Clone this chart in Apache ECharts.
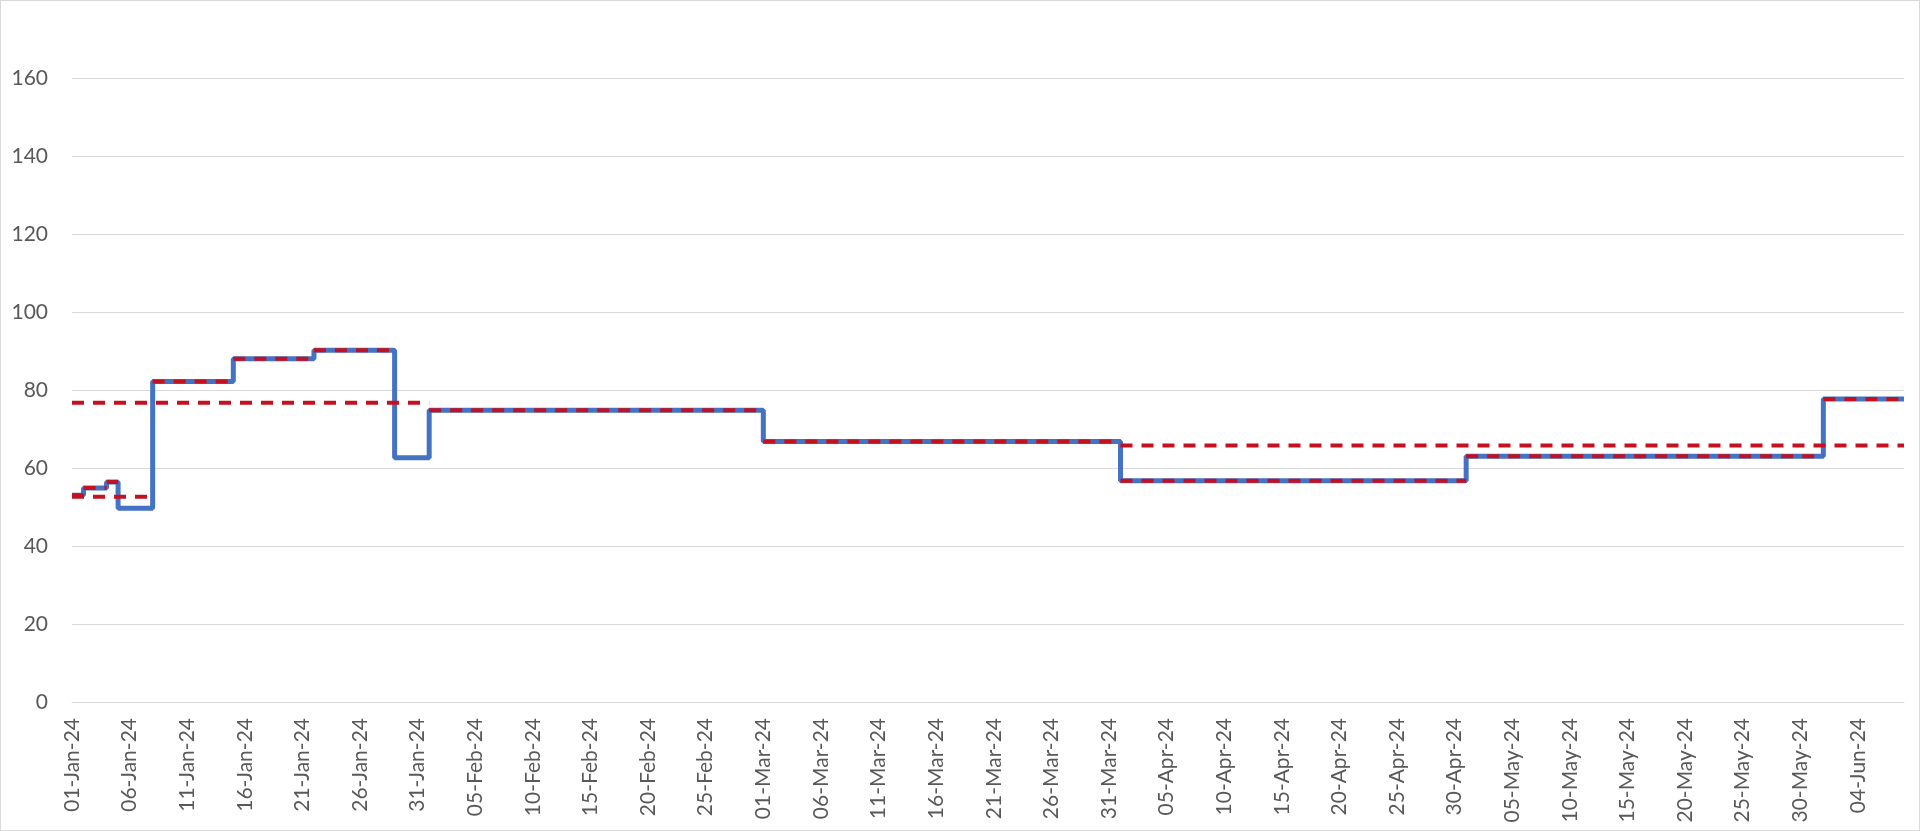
<!DOCTYPE html>
<html>
<head>
<meta charset="utf-8">
<script src="https://cdn.jsdelivr.net/npm/echarts@6/dist/echarts.min.js"></script>
<style>
  html, body { margin: 0; padding: 0; background: #fff; }
  #chart { width: 1920px; height: 831px; box-sizing: border-box; border: 1px solid #d9d9d9; }
</style>
</head>
<body>
<div id="chart"></div>
<script>
// days shown on the axis: 01-Jan-24 .. 08-Jun-24
var startDate = [2024, 0, 1];
var dayCount = 160;

// blue step line: day index where each level starts, and the level
var stepStart = [0, 1, 3, 4, 7, 14, 21, 28, 31, 60, 91, 121, 152];
var stepLevel = [53, 54.9, 56.4, 49.7, 82.2, 88.0, 90.2, 62.6, 74.8, 66.8, 56.7, 63.0, 77.7];
// steps that carry the red dashed overlay
var overlaid = [true, true, true, false, true, true, true, false, true, true, true, true, true];

// red dashed averages: [from day, to day, level]
var firstWeekAvg = [0, 7, 52.6];
var janAvg = [0, 31, 76.7];
var laterAvg = [91, 159, 65.8];

var monthNames = ['Jan','Feb','Mar','Apr','May','Jun','Jul','Aug','Sep','Oct','Nov','Dec'];
var dates = [];
for (var i = 0; i < dayCount; i++) {
	var d = new Date(startDate[0], startDate[1], startDate[2] + i);
	var dd = ('0' + d.getDate()).slice(-2);
	dates.push(dd + '-' + monthNames[d.getMonth()] + '-' + String(d.getFullYear()).slice(-2));
}

var blueData = [];
for (var i = 0; i < stepStart.length; i++) {
	blueData.push([stepStart[i], stepLevel[i]]);
}
blueData.push([dayCount - 1, stepLevel[stepLevel.length - 1]]);

var RED = '#C5101F';
var dashStyle = { color: RED, width: 4, type: [12, 9] };

function redSeg(a, b, v) {
	return {
		type: 'line',
		data: [[a, v], [b, v]],
		symbol: 'none',
		silent: true,
		z: 3,
		lineStyle: dashStyle
	};
}

var series = [{
	name: 'level',
	type: 'line',
	step: 'end',
	data: blueData,
	symbol: 'none',
	z: 2,
	lineStyle: { color: '#4472C4', width: 5 }
}];
for (var i = 0; i < stepStart.length; i++) {
	if (!overlaid[i]) continue;
	var end = i + 1 < stepStart.length ? stepStart[i + 1] : dayCount - 1;
	series.push(redSeg(stepStart[i], end, stepLevel[i]));
}
series.push(redSeg(firstWeekAvg[0], firstWeekAvg[1], firstWeekAvg[2]));
series.push(redSeg(janAvg[0], janAvg[1], janAvg[2]));
series.push(redSeg(laterAvg[0], laterAvg[1], laterAvg[2]));

var chart = echarts.init(document.getElementById('chart'));
var option = {
	animation: false,
	grid: { left: 71, right: 15, top: 77, bottom: 128, containLabel: false },
	xAxis: {
		type: 'category',
		data: dates,
		boundaryGap: false,
		axisLine: { lineStyle: { color: '#d9d9d9', width: 1 } },
		axisTick: { show: false },
		axisLabel: {
			interval: 4,
			rotate: 90,
			margin: 16,
			color: '#595959',
			fontFamily: 'Lato',
			fontSize: 21
		},
		splitLine: { show: false }
	},
	yAxis: {
		type: 'value',
		min: 0,
		max: 160,
		interval: 20,
		axisLine: { show: false },
		axisTick: { show: false },
		axisLabel: {
			margin: 24,
			color: '#595959',
			fontFamily: 'Lato',
			fontSize: 21
		},
		splitLine: { lineStyle: { color: '#d9d9d9', width: 1 } }
	},
	series: series
};
chart.setOption(option);
</script>
</body>
</html>
